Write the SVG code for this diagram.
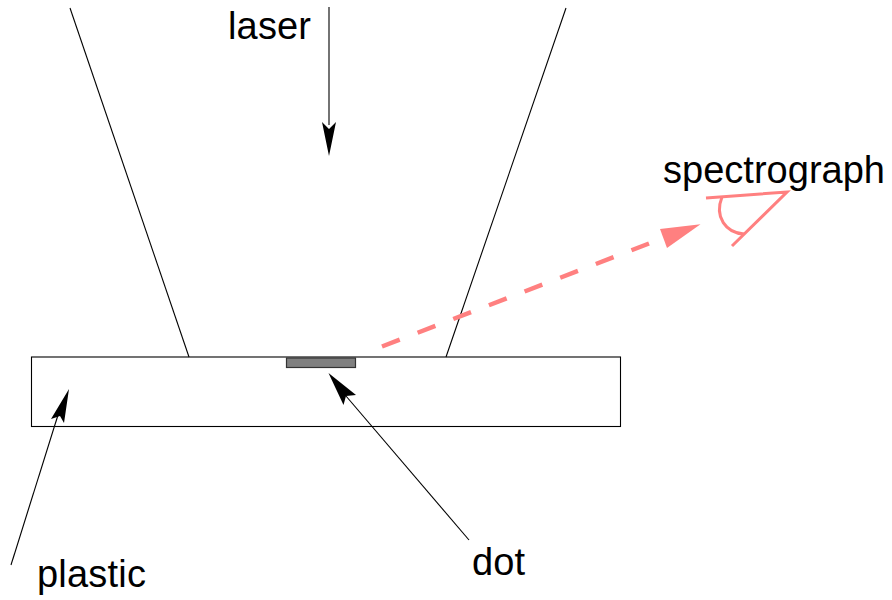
<svg xmlns="http://www.w3.org/2000/svg" width="892" height="600" viewBox="0 0 892 600">
<style>
text{font-family:"Liberation Sans",Arial,sans-serif;font-size:38px;fill:#000}
.l{fill:none;stroke:#000;stroke-width:1.1}
.p{fill:none;stroke:#ff8080;stroke-width:3}
.h{fill:#000;stroke:none}
</style>
<rect width="892" height="600" fill="#fff"/>
<g id="plastic-slab"><rect class="l" x="31.500" y="357" width="589" height="69.500"/></g>
<g id="dot-node"><rect x="286.500" y="358" width="69" height="9.500" fill="#808080" stroke="#333" stroke-width="1.200"/></g>
<g id="connectors">
<path class="l" d="M70 8L189 357"/>
<path class="l" d="M566 8L446 357"/>
<path class="l" d="M329 7V125"/>
<path class="h" d="M329 156L322 122L329 129L336 122Z"/>
<path class="l" d="M11 565L58 415"/>
<path class="h" d="M69 389L64 423L60 416L51 419Z"/>
<path class="l" d="M469 540L346 396"/>
<path class="h" d="M328.500 373L356 395L346 396L343.500 405Z"/>
<path d="M382 346.500L649 243.500" fill="none" stroke="#ff8080" stroke-width="4.500" stroke-dasharray="19 19.200"/>
<path d="M700.500 224.300L667 248L660 229Z" fill="#ff8080"/>
</g>
<g id="spectrograph">
<path class="p" d="M706 198L787 192L732 246"/>
<path class="p" d="M722 197C714 217 726 233 744 234"/>
<text x="663" y="183" textLength="222">spectrograph</text>
</g>
<g id="laser"><text x="228" y="39" textLength="83">laser</text></g>
<g id="plastic"><text x="37" y="587" textLength="109">plastic</text></g>
<g id="dot"><text x="472" y="575" textLength="53">dot</text></g>
</svg>
